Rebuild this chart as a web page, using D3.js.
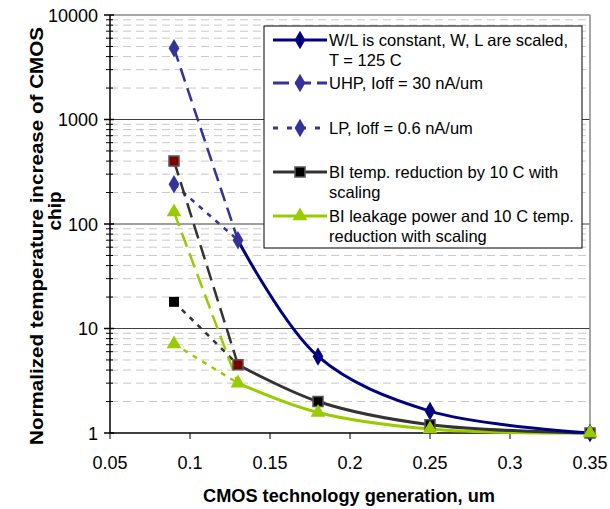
<!DOCTYPE html>
<html>
<head>
<meta charset="utf-8">
<script src="https://cdn.jsdelivr.net/npm/d3@7"></script>
<style>
  body { margin: 0; background: #fff; }
  text { font-family: "Liberation Sans", Arial, sans-serif; }
</style>
</head>
<body>
<div id="chart"></div>
<script>
// data
var gens = [0.13, 0.18, 0.25, 0.35]        // solid (scaled) part
var genStart = [0.09, 0.13]                // dashed start segments
var wlConst = [70, 5.4, 1.62, 1]
var uhpVals = [4800, 70]
var lpVals = [240, 70]
var biTemp = [4.5, 2.0, 1.2, 1]
var biTempUhp = [400, 4.5]
var biTempLp = [18, 4.5]
var biLeak = [3.0, 1.57, 1.09, 1]
var biLeakUhp = [130, 3.0]
var biLeakLp = [7.1, 3.0]
var xTicks = [0.05, 0.1, 0.15, 0.2, 0.25, 0.3, 0.35]
var yTicks = [1, 10, 100, 1000, 10000]
var legendText = [
  ['W/L is constant, W, L are scaled,', 'T = 125 C'],
  ['UHP, Ioff = 30 nA/um'],
  ['LP, Ioff = 0.6 nA/um'],
  ['BI temp. reduction by 10 C with', 'scaling'],
  ['BI leakage power and 10 C temp.', 'reduction with scaling']
]

var W = 610, H = 509
var L = 110, R = 590, T = 15, B = 433

var svg = d3.select('#chart').append('svg')
    .attr('width', W)
    .attr('height', H)

var x = d3.scaleLinear().domain([0.05, 0.35]).range([L, R])
var y = d3.scaleLog().domain([1, 10000]).range([B, T])

// minor grid (dashed)
var minors = []
for (var d = 1; d < 10000; d *= 10) {
  for (var k = 2; k <= 9; k++) minors.push(d * k)
}
svg.selectAll('.minor').data(minors).enter().append('line')
    .attr('x1', L).attr('x2', R)
    .attr('y1', function(v) { return y(v) }).attr('y2', function(v) { return y(v) })
    .attr('stroke', '#c8c8c8')
    .attr('stroke-width', 1)
    .attr('stroke-dasharray', '8,5')

// major grid
svg.selectAll('.major').data([10, 100, 1000]).enter().append('line')
    .attr('x1', L).attr('x2', R)
    .attr('y1', function(v) { return y(v) }).attr('y2', function(v) { return y(v) })
    .attr('stroke', '#404040')
    .attr('stroke-width', 1)

// plot border top / right
svg.append('line').attr('x1', L).attr('x2', R).attr('y1', y(10000)).attr('y2', y(10000))
    .attr('stroke', '#888').attr('stroke-width', 1.5)
svg.append('line').attr('x1', R).attr('x2', R).attr('y1', T).attr('y2', B)
    .attr('stroke', '#888').attr('stroke-width', 1.5)

// y axis with crossing ticks
svg.append('line').attr('x1', L).attr('x2', L).attr('y1', T).attr('y2', B)
    .attr('stroke', '#000').attr('stroke-width', 1.5)
svg.selectAll('.ymin').data(minors).enter().append('line')
    .attr('x1', L - 4).attr('x2', L + 3)
    .attr('y1', function(v) { return y(v) }).attr('y2', function(v) { return y(v) })
    .attr('stroke', '#000').attr('stroke-width', 1)
svg.selectAll('.ymaj').data(yTicks).enter().append('line')
    .attr('x1', L - 6).attr('x2', L + 4)
    .attr('y1', function(v) { return y(v) }).attr('y2', function(v) { return y(v) })
    .attr('stroke', '#000').attr('stroke-width', 1.5)
svg.selectAll('.ylab').data(yTicks).enter().append('text')
    .attr('x', L - 12)
    .attr('y', function(v) { return y(v) + 6.5 })
    .attr('text-anchor', 'end')
    .attr('font-size', 18)
    .text(function(v) { return v })

// x axis
svg.append('line').attr('x1', L).attr('x2', R).attr('y1', B).attr('y2', B)
    .attr('stroke', '#000').attr('stroke-width', 1.5)
svg.selectAll('.xt').data(xTicks).enter().append('line')
    .attr('x1', function(v) { return x(v) }).attr('x2', function(v) { return x(v) })
    .attr('y1', B).attr('y2', B + 6)
    .attr('stroke', '#000').attr('stroke-width', 1)
svg.selectAll('.xlab').data(xTicks).enter().append('text')
    .attr('x', function(v) { return x(v) })
    .attr('y', B + 36)
    .attr('text-anchor', 'middle')
    .attr('font-size', 18)
    .text(function(v) { return v })

// axis titles
svg.append('text')
    .attr('x', 349).attr('y', 502)
    .attr('text-anchor', 'middle')
    .attr('font-size', 19).attr('font-weight', 'bold')
    .attr('textLength', 292).attr('lengthAdjust', 'spacingAndGlyphs')
    .text('CMOS technology generation, um')
svg.append('text')
    .attr('transform', 'translate(43,236) rotate(-90)')
    .attr('text-anchor', 'middle')
    .attr('font-size', 19).attr('font-weight', 'bold')
    .attr('textLength', 418).attr('lengthAdjust', 'spacingAndGlyphs')
    .text('Normalized temperature increase of CMOS')
svg.append('text')
    .attr('transform', 'translate(61,211) rotate(-90)')
    .attr('text-anchor', 'middle')
    .attr('font-size', 19).attr('font-weight', 'bold')
    .text('chip')

// series helpers
var straight = d3.line()
    .x(function(d) { return x(d[0]) })
    .y(function(d) { return y(d[1]) })
var smooth = d3.line()
    .x(function(d) { return x(d[0]) })
    .y(function(d) { return y(d[1]) })
    .curve(d3.curveCatmullRom.alpha(0.5))

function pts(xs, ys) { return xs.map(function(v, i) { return [v, ys[i]] }) }

function drawLine(data, gen, color, dash, w) {
  svg.append('path')
      .attr('d', gen(data))
      .attr('fill', 'none')
      .attr('stroke', color)
      .attr('stroke-width', w)
      .attr('stroke-dasharray', dash)
}

var NAVY = '#000080', BLUE = '#333399', GRAY = '#333333', GREEN = '#99cc00'

// dashed start segments
drawLine(pts(genStart, uhpVals), straight, BLUE, '14,7', 2.5)
drawLine(pts(genStart, lpVals), straight, BLUE, '5,6', 2.5)
drawLine(pts(genStart, biTempUhp), straight, GRAY, '15,7', 2.5)
drawLine(pts(genStart, biTempLp), straight, GRAY, '5,6', 2.5)
drawLine(pts(genStart, biLeakUhp), straight, GREEN, '15,7', 2.5)
drawLine(pts(genStart, biLeakLp), straight, GREEN, '5,6', 2.5)

// solid smoothed lines
drawLine(pts(gens, biLeak), smooth, GREEN, null, 3)
drawLine(pts(gens, biTemp), smooth, GRAY, null, 3)
drawLine(pts(gens, wlConst), smooth, NAVY, null, 3)

// markers
var diamond = d3.symbol().type(d3.symbolDiamond).size(100)
var square = d3.symbol().type(d3.symbolSquare).size(100)
var tri = d3.symbol().type(d3.symbolTriangle).size(95)

function marks(data, sym, fill, stroke, sw) {
  svg.selectAll(null).data(data).enter().append('path')
      .attr('d', sym)
      .attr('transform', function(d) { return 'translate(' + x(d[0]) + ',' + y(d[1]) + ')' })
      .attr('fill', fill)
      .attr('stroke', stroke || 'none')
      .attr('stroke-width', sw || 0)
}

marks(pts(gens.slice(1), wlConst.slice(1)), diamond, NAVY)
marks([[genStart[0], uhpVals[0]], [genStart[0], lpVals[0]], [gens[0], wlConst[0]]], diamond, BLUE)
marks(pts(gens.slice(1), biTemp.slice(1)), square, '#000', '#555', 1.5)
marks([[genStart[0], biTempUhp[0]], [gens[0], biTemp[0]]], square, '#800000', '#555', 1.5)
marks([[genStart[0], biTempLp[0]]], square, '#000')
marks(pts(gens, biLeak), tri, GREEN)
marks([[genStart[0], biLeakUhp[0]], [genStart[0], biLeakLp[0]]], tri, GREEN)

// legend
var lg = svg.append('g')
lg.append('rect')
    .attr('x', 264).attr('y', 26).attr('width', 318).attr('height', 222)
    .attr('fill', '#fff').attr('stroke', '#000').attr('stroke-width', 1)

var rowsY = [40, 83, 128, 172, 216]
var lgStyle = [
  { c: NAVY, dash: null, sym: diamond, fill: NAVY },
  { c: BLUE, dash: '16,6', sym: diamond, fill: BLUE },
  { c: BLUE, dash: '5,9', sym: diamond, fill: BLUE },
  { c: GRAY, dash: null, sym: square, fill: '#000', stroke: '#555' },
  { c: GREEN, dash: null, sym: tri, fill: GREEN }
]
rowsY.forEach(function(ry, i) {
  var s = lgStyle[i]
  lg.append('line')
      .attr('x1', 273).attr('x2', 327).attr('y1', ry).attr('y2', ry)
      .attr('stroke', s.c).attr('stroke-width', 3)
      .attr('stroke-dasharray', s.dash)
  lg.append('path')
      .attr('d', s.sym)
      .attr('transform', 'translate(300,' + ry + ')')
      .attr('fill', s.fill)
      .attr('stroke', s.stroke || 'none')
      .attr('stroke-width', s.stroke ? 1.5 : 0)
  legendText[i].forEach(function(t, j) {
    lg.append('text')
        .attr('x', 329).attr('y', ry + 6 + j * 20)
        .attr('font-size', 16.5)
        .text(t)
  })
})
</script>
</body>
</html>
